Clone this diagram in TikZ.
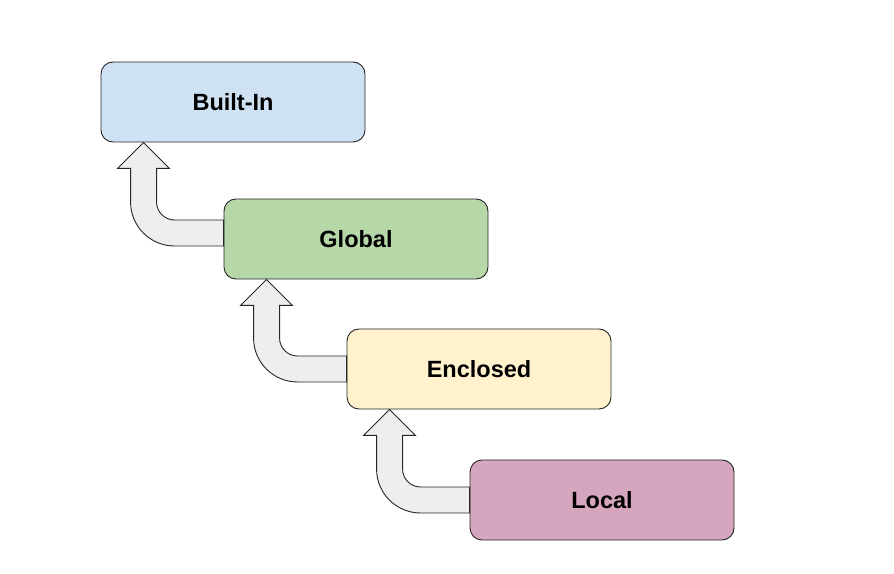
\documentclass[tikz,border=0pt]{standalone}
\usepackage{fontspec}
\setmainfont{Liberation Sans}
\usepackage{xcolor}
\usetikzlibrary{calc}

\definecolor{builtincol}{HTML}{CFE2F3}
\definecolor{globalcol}{HTML}{B6D7A8}
\definecolor{enclosedcol}{HTML}{FFF2CC}
\definecolor{localcol}{HTML}{D5A6BD}
\definecolor{arrowcol}{HTML}{EEEEEE}

\tikzset{
    scopebox/.style={draw=black!85, rounded corners=12pt, minimum width=264pt,
        minimum height=80pt, line width=0.9pt, inner sep=0pt,
        font=\fontsize{23.5}{28}\selectfont\bfseries},
    lookup/.style={draw=black!85, fill=arrowcol, line width=0.9pt, line join=miter}
}

% thick bent arrow from the left side of #1 up to the bottom of #2
\newcommand{\lookuparrow}[3]{%
    \coordinate (f) at ($(#1.west)+(0,#3)$);
    \coordinate (t) at ($(#2.south west)+(43,0)$);
    \draw[lookup] ($(f)+(0,13)$) [rounded corners=18pt]
        -- ($(t|-f)+(13,13)$) [sharp corners] -- ($(t)+(13,-26)$)
        -- ($(t)+(26,-26)$) -- (t) -- ($(t)+(-26,-26)$) -- ($(t)+(-13,-26)$)
        [rounded corners=44pt] -- ($(t|-f)+(-13,-13)$) [sharp corners]
        -- ($(f)+(0,-13)$) -- cycle;
}

\begin{document}
\begin{tikzpicture}[x=1pt,y=1pt]
    \useasboundingbox (0,0) rectangle (894,573);
    \node[scopebox, fill=builtincol](builtin) at (233,471) {Built-In};
    \node[scopebox, fill=globalcol](global) at (356,334) {Global};
    \node[scopebox, fill=enclosedcol](enclosed) at (479,204) {Enclosed};
    \node[scopebox, fill=localcol](local) at (602,73) {Local};
    \lookuparrow{global}{builtin}{6}
    \lookuparrow{enclosed}{global}{0}
    \lookuparrow{local}{enclosed}{0}
\end{tikzpicture}
\end{document}
